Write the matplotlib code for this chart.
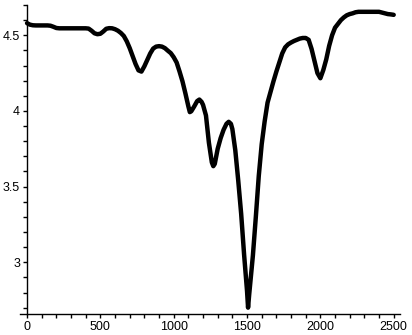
import matplotlib
matplotlib.use("Agg")
import matplotlib.pyplot as plt
from matplotlib.ticker import MultipleLocator

# values
xs = [0, 20, 40, 60, 80, 100, 120, 140, 160, 180, 200, 220, 240, 260, 280,
      300, 320, 340, 360, 380, 400, 420, 440, 460, 480, 500, 520, 540, 560,
      580, 600, 620, 640, 660, 680, 700, 720, 740, 760, 780, 800, 820, 840,
      860, 880, 900, 920, 940, 960, 980, 1000, 1020, 1040, 1060, 1080, 1100,
      1110, 1120, 1140, 1160, 1175, 1190, 1200, 1220, 1240, 1260, 1270, 1280,
      1300, 1320, 1340, 1360, 1375, 1390, 1400, 1420, 1440, 1460, 1480, 1490,
      1500, 1507, 1515, 1525, 1540, 1560, 1580, 1600, 1620, 1640, 1660, 1680,
      1700, 1720, 1740, 1760, 1780, 1800, 1820, 1840, 1860, 1880, 1900, 1920,
      1940, 1960, 1980, 2000, 2020, 2040, 2060, 2080, 2100, 2120, 2140, 2160,
      2180, 2200, 2220, 2240, 2260, 2280, 2300, 2320, 2340, 2360, 2380, 2400,
      2420, 2440, 2460, 2480, 2500]
ys = [4.58, 4.57, 4.566, 4.565, 4.565, 4.565, 4.565, 4.565, 4.563, 4.556,
      4.548, 4.546, 4.546, 4.546, 4.546, 4.546, 4.546, 4.546, 4.546, 4.546,
      4.546, 4.544, 4.53, 4.513, 4.507, 4.51, 4.525, 4.543, 4.547, 4.546,
      4.54, 4.53, 4.515, 4.495, 4.46, 4.415, 4.362, 4.31, 4.268, 4.26, 4.295,
      4.338, 4.38, 4.412, 4.425, 4.428, 4.425, 4.415, 4.398, 4.382, 4.355,
      4.32, 4.26, 4.195, 4.115, 4.03, 3.992, 3.998, 4.03, 4.065, 4.075, 4.06,
      4.04, 3.97, 3.79, 3.66, 3.635, 3.65, 3.75, 3.82, 3.875, 3.915, 3.928,
      3.915, 3.88, 3.74, 3.54, 3.32, 3.05, 2.93, 2.81, 2.70, 2.79, 2.89,
      3.045, 3.30, 3.57, 3.78, 3.93, 4.055, 4.125, 4.195, 4.26, 4.32, 4.38,
      4.42, 4.44, 4.452, 4.462, 4.47, 4.478, 4.482, 4.482, 4.47, 4.41, 4.33,
      4.25, 4.216, 4.27, 4.34, 4.43, 4.50, 4.55, 4.575, 4.60, 4.618, 4.632,
      4.64, 4.645, 4.652, 4.655, 4.655, 4.655, 4.655, 4.655, 4.655, 4.655,
      4.655, 4.65, 4.645, 4.64, 4.638, 4.635]

fig = plt.figure(figsize=(4.12, 3.35), dpi=100)
ax = fig.add_axes([20/412, 21/335, 380/412, 309/335])

ax.plot(xs, ys, color="black", lw=3.2, solid_joinstyle="round",
        solid_capstyle="round")

ax.set_xlim(-48, 2543)
ax.set_ylim(2.658, 4.70)

ax.spines["top"].set_visible(False)
ax.spines["right"].set_visible(False)
ax.spines["left"].set_position(("data", 0))
for s in ("left", "bottom"):
    ax.spines[s].set_linewidth(1.0)

ax.xaxis.set_major_locator(MultipleLocator(500))
ax.xaxis.set_minor_locator(MultipleLocator(100))
ax.yaxis.set_major_locator(MultipleLocator(0.5))
ax.yaxis.set_minor_locator(MultipleLocator(0.1))
ax.set_yticks([3, 3.5, 4, 4.5])
ax.set_yticklabels(["3", "3.5", "4", "4.5"])
ax.tick_params(which="both", direction="out", length=3, width=1,
               labelsize=9, pad=2)
for lab in ax.get_xticklabels() + ax.get_yticklabels():
    lab.set_family("Liberation Sans")

fig.savefig("out.png", dpi=100)
